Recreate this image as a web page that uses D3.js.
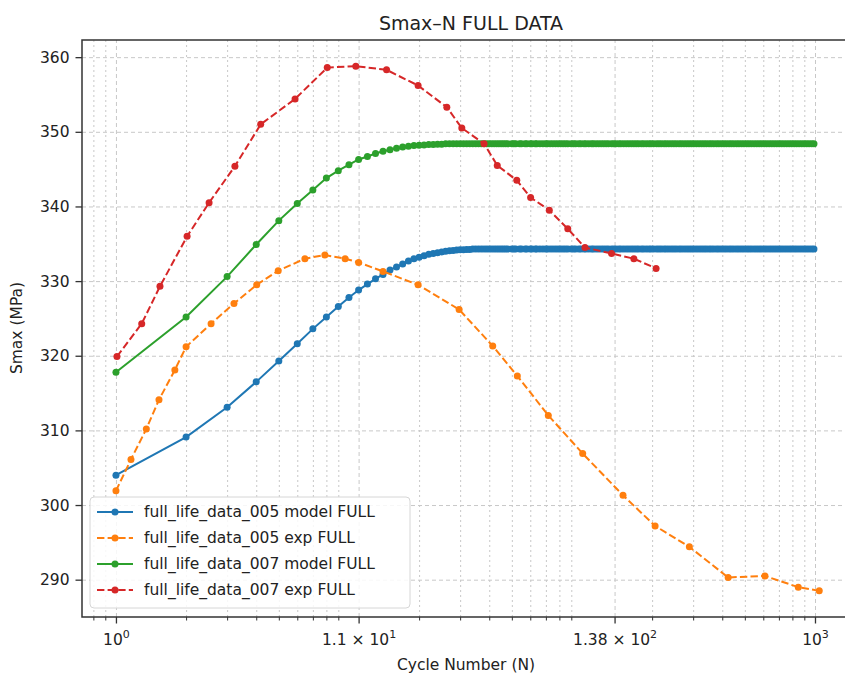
<!DOCTYPE html>
<html lang="en">
<head>
<meta charset="utf-8">
<title>Smax-N FULL DATA</title>
<style>
body { margin: 0; background: #fff; }
text { font-family: "DejaVu Sans", sans-serif; fill: #222; }
.grid line { stroke: #c8c8c8; stroke-width: 1; }
.grid path { display: none; }
.gridMajor line { stroke-dasharray: 4,3; }
.gridMinor line { stroke-dasharray: 2,3; }
.axis path, .axis line { stroke: #333; }
.axis path { display: none; }
.axis text { font-size: 15.5px; }
</style>
</head>
<body>
<svg width="845" height="674"></svg>
<script src="https://cdn.jsdelivr.net/npm/d3@7/dist/d3.min.js"></script>
<script>
// model curves: one value per listed cycle (integer cycles, then the plateau)
var modelCycles = [1,2,3,4,5,6,7,8,9,10,11,12,13,14,15,16,17,18,19,20,21,22,23,24,25,26,27,28,29,30,31,
  32,33,34,35,36,37,38,39,40,41,
  42,43,44,45,46,47,48,50,51,52,
  54,55,57,58,60,61,63,64,66,68,
  70,71,73,75,77,79,81,83,85,87,
  90,92,94,97,99,102,104,107,110,112,
  115,118,121,124,127,130,134,137,140,144,
  147,151,155,159,163,167,171,175,180,184,
  189,194,198,203,209,214,219,225,230,236,
  242,248,254,261,267,274,281,288,295,302,
  310,318,326,334,342,351,359,368,378,387,
  397,407,417,428,438,449,461,472,484,496,
  509,521,534,548,562,576,590,605,620,636,
  652,668,685,702,719,737,756,775,794,814,
  834,855,877,899,921,944,968,990];

var model005 = [304.0,309.1,313.1,316.5,319.3,321.6,323.6,325.2,326.6,327.8,
  328.8,329.6,330.3,330.9,331.5,331.9,332.3,332.7,333.0,333.2,
  333.4,333.6,333.7,333.8,333.9,334.0,334.05,334.1,334.15,334.2,334.2,
  334.25,334.25,334.3,334.3,334.3,334.3,334.3,334.3,334.3,334.3,
  334.3,334.3,334.3,334.3,334.3,334.3,334.3,334.3,334.3,334.3,
  334.3,334.3,334.3,334.3,334.3,334.3,334.3,334.3,334.3,334.3,
  334.3,334.3,334.3,334.3,334.3,334.3,334.3,334.3,334.3,334.3,
  334.3,334.3,334.3,334.3,334.3,334.3,334.3,334.3,334.3,334.3,
  334.3,334.3,334.3,334.3,334.3,334.3,334.3,334.3,334.3,334.3,
  334.3,334.3,334.3,334.3,334.3,334.3,334.3,334.3,334.3,334.3,
  334.3,334.3,334.3,334.3,334.3,334.3,334.3,334.3,334.3,334.3,
  334.3,334.3,334.3,334.3,334.3,334.3,334.3,334.3,334.3,334.3,
  334.3,334.3,334.3,334.3,334.3,334.3,334.3,334.3,334.3,334.3,
  334.3,334.3,334.3,334.3,334.3,334.3,334.3,334.3,334.3,334.3,
  334.3,334.3,334.3,334.3,334.3,334.3,334.3,334.3,334.3,334.3,
  334.3,334.3,334.3,334.3,334.3,334.3,334.3,334.3,334.3,334.3,
  334.3,334.3,334.3,334.3,334.3,334.3,334.3,334.3];

var model007 = [317.8,325.2,330.6,334.9,338.1,340.4,342.2,343.8,344.8,345.6,
  346.3,346.7,347.1,347.4,347.6,347.8,347.95,348.05,348.15,348.2,
  348.25,348.3,348.3,348.35,348.35,348.4,348.4,348.4,348.4,348.4,348.4,
  348.4,348.4,348.4,348.4,348.4,348.4,348.4,348.4,348.4,348.4,
  348.4,348.4,348.4,348.4,348.4,348.4,348.4,348.4,348.4,348.4,
  348.4,348.4,348.4,348.4,348.4,348.4,348.4,348.4,348.4,348.4,
  348.4,348.4,348.4,348.4,348.4,348.4,348.4,348.4,348.4,348.4,
  348.4,348.4,348.4,348.4,348.4,348.4,348.4,348.4,348.4,348.4,
  348.4,348.4,348.4,348.4,348.4,348.4,348.4,348.4,348.4,348.4,
  348.4,348.4,348.4,348.4,348.4,348.4,348.4,348.4,348.4,348.4,
  348.4,348.4,348.4,348.4,348.4,348.4,348.4,348.4,348.4,348.4,
  348.4,348.4,348.4,348.4,348.4,348.4,348.4,348.4,348.4,348.4,
  348.4,348.4,348.4,348.4,348.4,348.4,348.4,348.4,348.4,348.4,
  348.4,348.4,348.4,348.4,348.4,348.4,348.4,348.4,348.4,348.4,
  348.4,348.4,348.4,348.4,348.4,348.4,348.4,348.4,348.4,348.4,
  348.4,348.4,348.4,348.4,348.4,348.4,348.4,348.4,348.4,348.4,
  348.4,348.4,348.4,348.4,348.4,348.4,348.4,348.4];

var exp005Cycles = [1,1.16,1.35,1.53,1.79,2.0,2.56,3.21,4.02,4.97,6.47,7.88,9.63,11.0,14.0,19.8,29.7,41.4,52.8,71.7,100.7,150,206,289,424,610,848,1043];
var exp005 = [301.9,306.1,310.2,314.1,318.1,321.2,324.3,327.0,329.5,331.4,333.0,333.5,333.0,332.5,331.3,329.5,326.2,321.3,317.3,312.0,306.9,301.3,297.2,294.4,290.3,290.5,289.0,288.5];

var exp007Cycles = [1.01,1.29,1.545,2.02,2.51,3.24,4.18,5.87,8.07,10.7,14.5,19.8,26.3,30.5,38,43.3,52.5,60.2,72.4,86.9,103,134,167,208];
var exp007 = [319.9,324.3,329.3,336.0,340.5,345.4,351.0,354.4,358.6,358.8,358.3,356.2,353.3,350.5,348.4,345.5,343.5,341.2,339.5,337.0,334.5,333.7,333.0,331.7];

var seriesNames = ["full_life_data_005 model FULL", "full_life_data_005 exp FULL",
                   "full_life_data_007 model FULL", "full_life_data_007 exp FULL"];
var seriesColors = ["#1f77b4", "#ff7f0e", "#2ca02c", "#d62728"];

var yTicks = [290, 300, 310, 320, 330, 340, 350, 360];
var xMajorTicks = [1, 11, 138, 1000];
var xMajorLabels = [["10", "0"], ["1.1 \u00d7 10", "1"], ["1.38 \u00d7 10", "2"], ["10", "3"]];
var xMinorTicks = [0.8, 0.9, 2, 3, 4, 5, 6, 7, 8, 9, 20, 30, 40, 50, 60, 70, 80, 90,
                   200, 300, 400, 500, 600, 700, 800, 900];

var svg = d3.select("svg"),
    plotLeft = 82, plotRight = 855, plotTop = 40, plotBottom = 617;

var x = d3.scaleLog().domain([0.715, 1485]).range([plotLeft, plotRight]);
var y = d3.scaleLinear().domain([285, 362.3]).range([plotBottom, plotTop]);

svg.append("defs").append("clipPath").attr("id", "plotclip")
  .append("rect").attr("x", plotLeft).attr("y", plotTop)
  .attr("width", plotRight - plotLeft).attr("height", plotBottom - plotTop);

// grid
svg.append("g").attr("class", "grid gridMinor")
  .attr("transform", "translate(0," + plotBottom + ")")
  .call(d3.axisBottom(x).tickValues(xMinorTicks).tickSize(-(plotBottom - plotTop)).tickFormat(""));
svg.append("g").attr("class", "grid gridMajor")
  .attr("transform", "translate(0," + plotBottom + ")")
  .call(d3.axisBottom(x).tickValues(xMajorTicks).tickSize(-(plotBottom - plotTop)).tickFormat(""));
svg.append("g").attr("class", "grid gridMajor")
  .attr("transform", "translate(" + plotLeft + ",0)")
  .call(d3.axisLeft(y).tickValues(yTicks).tickSize(-(plotRight - plotLeft)).tickFormat(""));

// series
var series = [
  {cycles: modelCycles, values: model005, dash: null},
  {cycles: exp005Cycles, values: exp005, dash: "7.4,3.2"},
  {cycles: modelCycles, values: model007, dash: null},
  {cycles: exp007Cycles, values: exp007, dash: "7.4,3.2"}
];

var line = d3.line()
  .x(function(d) { return x(d[0]); })
  .y(function(d) { return y(d[1]); });

var plot = svg.append("g").attr("clip-path", "url(#plotclip)");

series.forEach(function(s, i) {
  var pts = d3.zip(s.cycles, s.values);
  var g = plot.append("g");
  g.append("path")
    .attr("d", line(pts))
    .attr("fill", "none")
    .attr("stroke", seriesColors[i])
    .attr("stroke-width", 2)
    .attr("stroke-dasharray", s.dash);
  g.selectAll("circle").data(pts).enter().append("circle")
    .attr("cx", function(d) { return x(d[0]); })
    .attr("cy", function(d) { return y(d[1]); })
    .attr("r", 3.5)
    .attr("fill", seriesColors[i]);
});

// axes
var xAxisMinor = svg.append("g").attr("class", "axis")
  .attr("transform", "translate(0," + plotBottom + ")")
  .call(d3.axisBottom(x).tickValues(xMinorTicks).tickSize(3.5).tickFormat(""));
xAxisMinor.selectAll("line").attr("stroke-width", 1);

var xAxis = svg.append("g").attr("class", "axis")
  .attr("transform", "translate(0," + plotBottom + ")")
  .call(d3.axisBottom(x).tickValues(xMajorTicks).tickSize(6.5).tickFormat(""));
xAxis.selectAll("line").attr("stroke-width", 1.3);
xAxis.selectAll(".tick").append("text")
  .attr("y", 28)
  .attr("text-anchor", "middle")
  .attr("fill", "#222")
  .each(function(d, i) {
    var t = d3.select(this);
    t.append("tspan").text(xMajorLabels[i][0]);
    t.append("tspan").attr("dy", -7).attr("font-size", "11px").text(xMajorLabels[i][1]);
  });

var yAxis = svg.append("g").attr("class", "axis")
  .attr("transform", "translate(" + plotLeft + ",0)")
  .call(d3.axisLeft(y).tickValues(yTicks).tickSize(6.5).tickPadding(6));
yAxis.selectAll("line").attr("stroke-width", 1.3);
yAxis.selectAll("text").attr("fill", "#222");

// spines
svg.append("path")
  .attr("d", "M" + plotRight + "," + plotTop + "H" + plotLeft + "V" + plotBottom + "H" + plotRight)
  .attr("fill", "none").attr("stroke", "#333").attr("stroke-width", 1.5);

// titles
svg.append("text").attr("x", 471).attr("y", 30).attr("text-anchor", "middle")
  .attr("font-size", "19px").text("Smax\u2013N FULL DATA");
svg.append("text").attr("x", 466).attr("y", 670).attr("text-anchor", "middle")
  .attr("font-size", "15.5px").text("Cycle Number (N)");
svg.append("text").attr("transform", "translate(22,328) rotate(-90)")
  .attr("text-anchor", "middle").attr("font-size", "15.5px").text("Smax (MPa)");

// legend
var legend = svg.append("g").attr("transform", "translate(90,497)");
legend.append("rect").attr("width", 320).attr("height", 111).attr("rx", 4)
  .attr("fill", "#fff").attr("fill-opacity", 0.85)
  .attr("stroke", "#d6d6d6").attr("stroke-width", 1);
seriesNames.forEach(function(name, i) {
  var ly = 15 + i * 26;
  legend.append("line").attr("x1", 7).attr("x2", 43).attr("y1", ly).attr("y2", ly)
    .attr("stroke", seriesColors[i]).attr("stroke-width", 2)
    .attr("stroke-dasharray", series[i].dash);
  legend.append("circle").attr("cx", 25).attr("cy", ly).attr("r", 3.5).attr("fill", seriesColors[i]);
  legend.append("text").attr("x", 54).attr("y", ly).attr("dy", "0.35em")
    .attr("font-size", "15.5px").text(name);
});
</script>
</body>
</html>
